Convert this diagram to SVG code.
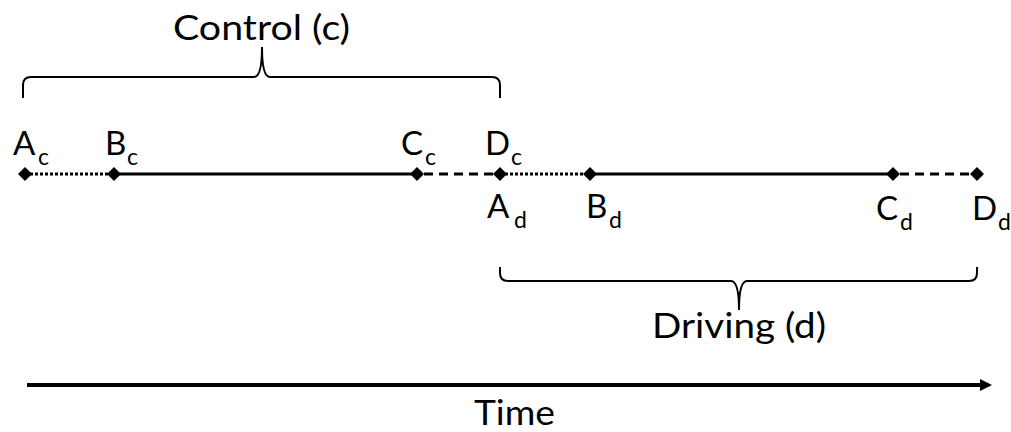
<svg xmlns="http://www.w3.org/2000/svg" width="1011" height="432" viewBox="0 0 1011 432">
<style>
text{font-family:Lato,"Open Sans","Liberation Sans",sans-serif;fill:#000}
.big{font-size:35px}
.lab{font-size:33px}
.sub{font-size:23px}
.solid{stroke:#000;stroke-width:3;fill:none}
.dot{stroke:#000;stroke-width:3;fill:none;stroke-dasharray:3 2}
.dash{stroke:#000;stroke-width:3;fill:none;stroke-dasharray:9 6}
.brace{stroke:#000;stroke-width:2;fill:none}
.dia{fill:#000}
</style>
<defs>
<marker id="arr" markerWidth="4" markerHeight="4" refX="1" refY="2" orient="auto" markerUnits="strokeWidth">
<path d="M0,0.5 L3,2 L0,3.5 Z" fill="#000"/>
</marker>
</defs>
<rect width="1011" height="432" fill="#fff"/>
<g id="connectors">
<line class="dot" x1="25" y1="174" x2="114" y2="174"/>
<line class="solid" x1="114" y1="174" x2="417" y2="174"/>
<line class="dash" x1="424" y1="174" x2="500" y2="174"/>
<line class="dot" x1="500" y1="174" x2="590" y2="174"/>
<line class="solid" x1="590" y1="174" x2="893" y2="174"/>
<line class="dash" x1="900" y1="174" x2="977" y2="174"/>
<line x1="27" y1="385" x2="984" y2="385" stroke="#000" stroke-width="4" marker-end="url(#arr)"/>
</g>
<g id="brace-control">
<path class="brace" d="M23,98 L23,85 Q23,77 31,77 L254,77 Q262,77 262,47 Q262,77 270,77 L492,77 Q500,77 500,85 L500,98"/>
<text class="big" x="173" y="40" textLength="177" lengthAdjust="spacingAndGlyphs">Control (c)</text>
</g>
<g id="brace-driving">
<path class="brace" d="M500,267 L500,273 Q500,281 508,281 L731,281 Q739,281 739,310 Q739,281 747,281 L969,281 Q977,281 977,273 L977,267"/>
<text class="big" x="652" y="338" textLength="174" lengthAdjust="spacingAndGlyphs">Driving (d)</text>
</g>
<g id="node-Ac">
<path class="dia" d="M25,167 L32,174 L25,181 L18,174 Z"/>
<text class="lab" x="13" y="155">A</text><text class="sub" x="38" y="165">c</text>
</g>
<g id="node-Bc">
<path class="dia" d="M114,167 L121,174 L114,181 L107,174 Z"/>
<text class="lab" x="105" y="155">B</text><text class="sub" x="127" y="165">c</text>
</g>
<g id="node-Cc">
<path class="dia" d="M417,167 L424,174 L417,181 L410,174 Z"/>
<text class="lab" x="401" y="155">C</text><text class="sub" x="425" y="165">c</text>
</g>
<g id="node-Dc-Ad">
<path class="dia" d="M500,167 L507,174 L500,181 L493,174 Z"/>
<text class="lab" x="485" y="155">D</text><text class="sub" x="511" y="165">c</text>
<text class="lab" x="487" y="218">A</text><text class="sub" x="514" y="228">d</text>
</g>
<g id="node-Bd">
<path class="dia" d="M590,167 L597,174 L590,181 L583,174 Z"/>
<text class="lab" x="586" y="218">B</text><text class="sub" x="609" y="228">d</text>
</g>
<g id="node-Cd">
<path class="dia" d="M893,167 L900,174 L893,181 L886,174 Z"/>
<text class="lab" x="876" y="220">C</text><text class="sub" x="900" y="230">d</text>
</g>
<g id="node-Dd">
<path class="dia" d="M977,167 L984,174 L977,181 L970,174 Z"/>
<text class="lab" x="972" y="220">D</text><text class="sub" x="998" y="230">d</text>
</g>
<g id="time-label">
<text class="big" x="474" y="425" textLength="81" lengthAdjust="spacingAndGlyphs">Time</text>
</g>
</svg>
